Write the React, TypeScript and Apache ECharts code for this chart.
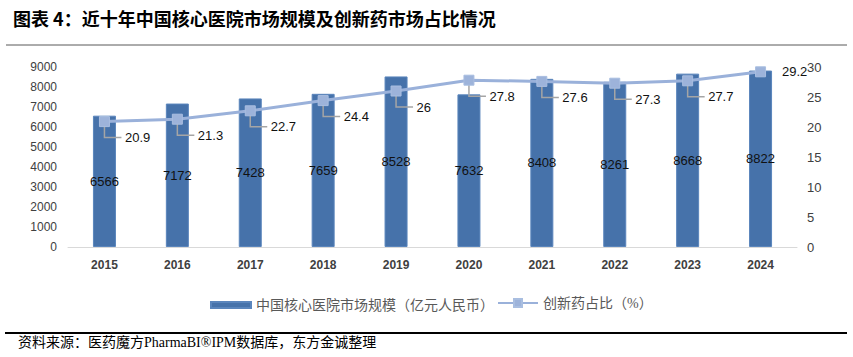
import React, { useEffect, useRef } from "react";
import * as echarts from "echarts";

const years = ["2015", "2016", "2017", "2018", "2019", "2020", "2021", "2022", "2023", "2024"];
const marketSize = [6566, 7172, 7428, 7659, 8528, 7632, 8408, 8261, 8668, 8822];
const innovShare = [20.9, 21.3, 22.7, 24.4, 26, 27.8, 27.6, 27.3, 27.7, 29.2];
const barName = "中国核心医院市场规模（亿元人民币）";
const lineName = "创新药占比（%）";
const titleText = "图表 4：近十年中国核心医院市场规模及创新药市场占比情况";
const sourceText = "资料来源：医药魔方PharmaBI®IPM数据库，东方金诚整理";

const CJK = "Liberation Serif, Noto Sans CJK SC, serif";
const NUM = "Liberation Sans, Noto Sans, sans-serif";

export default function App() {
  const ref = useRef<HTMLDivElement>(null);
  useEffect(() => {
    document.body.style.margin = "0";
    if (!ref.current) return;
    const chart = echarts.init(ref.current, null, { renderer: "svg" });
    const lastIdx = innovShare.length - 1;
    chart.setOption({
      animation: false,
      backgroundColor: "#ffffff",
      title: {
        text: titleText,
        left: 8,
        top: 4,
        textStyle: { fontSize: 18, fontWeight: "bold", color: "#000", fontFamily: "Noto Sans CJK SC, sans-serif" },
      },
      graphic: [
        { type: "line", shape: { x1: 6, y1: 45, x2: 847, y2: 45 }, style: { stroke: "#595959", lineWidth: 1 } },
        { type: "line", shape: { x1: 5, y1: 333, x2: 847, y2: 333 }, style: { stroke: "#000", lineWidth: 2 } },
        {
          type: "text",
          left: 18,
          top: 335,
          style: { text: sourceText, fontSize: 14, fill: "#000", fontFamily: CJK },
        },
      ],
      legend: [
        {
          data: [barName],
          left: 205,
          top: 293,
          itemWidth: 40,
          itemHeight: 6,
          itemGap: 9,
          icon: "rect",
          textStyle: { fontSize: 14, color: "#595959", fontFamily: CJK },
        },
        {
          data: [lineName],
          left: 492,
          top: 291,
          itemWidth: 40,
          itemHeight: 10,
          textStyle: { fontSize: 14, color: "#595959", fontFamily: CJK },
        },
      ],
      grid: { left: 68, right: 56, top: 67, bottom: 110, containLabel: false },
      xAxis: {
        type: "category",
        data: years,
        axisLine: { lineStyle: { color: "#D9D9D9", width: 1 } },
        axisTick: { show: false },
        axisLabel: { margin: 12, fontSize: 12, fontWeight: "bold", color: "#404040", fontFamily: NUM },
      },
      yAxis: [
        {
          type: "value",
          min: 0,
          max: 9000,
          interval: 1000,
          splitLine: { show: false },
          axisLine: { show: false },
          axisTick: { show: false },
          axisLabel: {
            margin: 11,
            fontSize: 12,
            color: "#404040",
            fontFamily: NUM,
            formatter: (v: number) => String(v),
          },
        },
        {
          type: "value",
          min: 0,
          max: 30,
          interval: 5,
          splitLine: { show: false },
          axisLine: { show: false },
          axisTick: { show: false },
          axisLabel: { margin: 10, fontSize: 13, color: "#404040", fontFamily: NUM },
        },
      ],
      series: [
        {
          name: barName,
          type: "bar",
          data: marketSize,
          barWidth: 23,
          itemStyle: { color: "#4672AA", borderColor: "#5A85BC", borderWidth: 1 },
          label: { show: true, position: "inside", fontSize: 13, color: "#111", fontFamily: NUM },
          z: 1,
        },
        {
          name: "leader",
          type: "custom",
          yAxisIndex: 1,
          data: innovShare.map((v, i) => [i, v]),
          silent: true,
          z: 2,
          renderItem: (params: any, api: any) => {
            if (params.dataIndex === lastIdx) return null;
            const p = api.coord([api.value(0), api.value(1)]);
            return {
              type: "polyline",
              shape: { points: [[p[0], p[1]], [p[0], p[1] + 16], [p[0] + 17, p[1] + 16]] },
              style: { stroke: "#A5A5A5", lineWidth: 1.5, fill: null },
            };
          },
        },
        {
          name: lineName,
          type: "line",
          yAxisIndex: 1,
          data: innovShare.map((v, i) =>
            i === lastIdx ? { value: v, label: { offset: [0, 0], distance: 16 } } : v
          ),
          symbol: "rect",
          symbolSize: 10,
          lineStyle: { color: "#9AB1DA", width: 3 },
          itemStyle: { color: "#9DB3DA", borderColor: "#A9BEE0", borderWidth: 1 },
          label: {
            show: true,
            position: "right",
            distance: 15,
            offset: [0, 16],
            fontSize: 13,
            color: "#111",
            fontFamily: NUM,
          },
          z: 3,
        },
      ],
    });
    return () => chart.dispose();
  }, []);
  return <div ref={ref} style={{ width: 853, height: 357 }} />;
}
